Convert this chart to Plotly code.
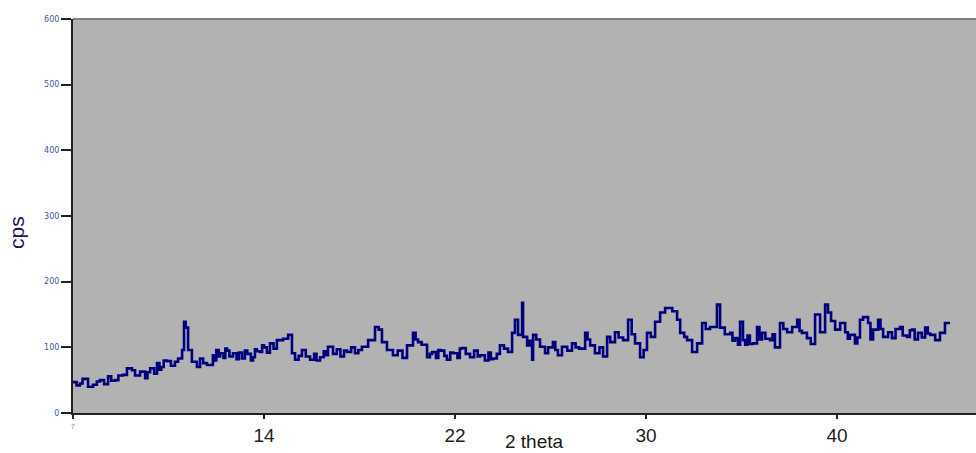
import plotly.graph_objects as go

# 2-theta positions (axis units) and counts per second
theta = [
    7.00, 7.15, 7.29, 7.40, 7.63, 7.84, 8.00, 8.13, 8.30, 8.47, 8.60, 8.76, 8.90, 9.09, 9.26, 9.47, 9.60, 9.81,
    10.02, 10.12, 10.23, 10.40, 10.52, 10.62, 10.70, 10.80, 10.94, 11.10, 11.27, 11.40, 11.57, 11.65, 11.72, 11.82, 11.98, 12.19,
    12.32, 12.45, 12.61, 12.86, 12.95, 13.00, 13.10, 13.16, 13.30, 13.38, 13.45, 13.55, 13.70, 13.85, 13.95, 14.08, 14.20, 14.30, 14.45, 14.54, 14.62, 14.70, 14.83, 14.92, 15.00, 15.12, 15.25, 15.40,
    15.54, 15.80, 16.01, 16.17, 16.30, 16.45, 16.59, 16.75, 16.93, 17.10, 17.20, 17.35, 17.50, 17.60, 17.68, 17.89, 18.05, 18.20, 18.35, 18.48, 18.65, 18.81, 18.95,
    19.10, 19.36, 19.65, 19.80, 19.94, 20.15, 20.40, 20.60, 20.80, 20.99, 21.24, 21.35, 21.45, 21.60, 21.83, 21.95,
    22.04, 22.20, 22.30, 22.40, 22.55, 22.66, 22.80, 22.92, 23.10, 23.20, 23.29, 23.45, 23.63, 23.80, 23.95, 24.05, 24.25, 24.40, 24.50, 24.59, 24.75,
    24.88, 25.05, 25.22, 25.39, 25.51, 25.64, 25.81, 25.85, 26.02, 26.12, 26.23, 26.27, 26.40, 26.56, 26.77, 26.90, 27.10, 27.20, 27.31, 27.48, 27.70, 27.90,
    28.05, 28.20, 28.45, 28.55, 28.66, 28.86, 29.05, 29.20, 29.37, 29.50, 29.70, 29.85, 30.04, 30.25, 30.40, 30.54, 30.75, 30.90,
    31.04, 31.20, 31.38, 31.59, 31.80, 32.10, 32.30, 32.43, 32.60, 32.72, 32.93, 33.14, 33.35, 33.50, 33.68, 33.97, 34.10, 34.30,
    34.52, 34.62, 34.73, 34.85, 34.94, 35.06, 35.15, 35.25, 35.35, 35.48, 35.65, 35.75, 35.86, 36.00, 36.19, 36.30, 36.40, 36.61, 36.75, 36.91, 37.12, 37.33, 37.43, 37.53, 37.74, 37.90,
    38.08, 38.29, 38.50, 38.62, 38.75, 38.92, 39.13, 39.34, 39.45, 39.54, 39.75, 39.85, 39.96, 40.09, 40.30, 40.40, 40.51, 40.72, 40.82, 40.93,
    41.14, 41.30, 41.45, 41.64, 41.75, 41.93, 42.05, 42.14, 42.25, 42.39, 42.55, 42.69, 42.80, 42.90, 43.11, 43.31, 43.52, 43.73,
]
cps = [
    47, 42, 45, 52, 40, 43, 48, 50, 44, 56, 49, 50, 57, 58, 68, 65, 57, 63,
    53, 62, 68, 60, 76, 66, 70, 80, 79, 72, 78, 83, 96, 139, 130, 96, 78, 70,
    83, 76, 73, 88, 80, 96, 86, 91, 84, 98, 95, 86, 91, 82, 92, 83, 95, 90, 80, 85, 97, 94, 93, 103, 100, 92, 106, 98,
    111, 113, 119, 91, 81, 87, 96, 86, 81, 90, 80, 85, 94, 88, 101, 90, 97, 86, 95, 93, 100, 91, 96,
    101, 111, 131, 127, 108, 96, 88, 95, 84, 103, 122, 112, 108, 104, 85, 90,
    93, 84, 96, 95, 87, 81, 92, 91, 84, 98, 99, 90, 85, 95, 86, 88, 80, 92, 82, 83, 90,
    103, 98, 93, 122, 142, 119, 168, 116, 103, 110, 81, 119, 112, 101, 91, 100, 108, 96, 88, 101, 95, 106,
    100, 98, 122, 112, 103, 91, 100, 86, 116, 108, 123, 115, 111, 142, 120, 106, 85, 96,
    122, 116, 139, 153, 160, 155, 142, 122, 116, 111, 93, 106, 137, 128, 131, 165, 130, 120,
    122, 110, 114, 104, 139, 111, 104, 118, 105, 106, 131, 112, 122, 113, 111, 120, 100, 137, 128, 123, 131, 142, 125, 122, 114, 105,
    150, 123, 165, 153, 140, 127, 137, 123, 113, 119, 106, 115, 142, 146, 137, 112, 127, 142, 128, 116,
    123, 114, 128, 131, 118, 116, 126, 127, 112, 122, 115, 130, 121, 119, 111, 122, 137, 137,
]

x_tick_vals = [7, 15, 23, 31, 39]
x_tick_text = ["", "14", "22", "30", "40"]
y_tick_vals = [0, 100, 200, 300, 400, 500, 600]
y_tick_text = ["0", "100", "200", "300", "400", "500", "600"]

fig = go.Figure()
fig.add_trace(go.Scatter(
    x=theta, y=cps, mode="lines",
    line=dict(color="#00007f", width=2.6, shape="hv"),
    showlegend=False, hoverinfo="skip"))

fig.update_layout(
    width=976, height=453,
    margin=dict(l=73, r=0, t=19, b=40),
    paper_bgcolor="white",
    plot_bgcolor="#b2b2b2",
    font=dict(family="Liberation Sans, Arial, sans-serif", color="#1a1a1a"),
    xaxis=dict(
        range=[7, 44.82], tickmode="array", tickvals=x_tick_vals, ticktext=x_tick_text,
        showgrid=False, zeroline=False, showline=True, linecolor="#222222", linewidth=2,
        ticks="outside", ticklen=4, tickwidth=2, tickcolor="#222222",
        tickfont=dict(size=19, color="#222222"),
    ),
    yaxis=dict(
        range=[0, 600], tickmode="array", tickvals=y_tick_vals, ticktext=y_tick_text,
        showgrid=False, zeroline=False, showline=True, linecolor="#222222", linewidth=2,
        ticks="outside", ticklen=10, tickwidth=2, tickcolor="#222222",
        tickfont=dict(size=8, color="#3a5a9a", family="DejaVu Sans, sans-serif"),
    ),
    shapes=[dict(type="line", xref="paper", yref="paper", x0=0, x1=1, y0=1, y1=1,
                 line=dict(color="#808080", width=2))],
    annotations=[
        dict(text="cps", xref="paper", yref="paper", x=-0.062, y=0.457, textangle=-90,
             xanchor="center", yanchor="middle",
             showarrow=False, font=dict(size=21, color="#2a1050")),
        dict(text="2 theta", xref="paper", yref="paper", x=0.5116, y=-0.072,
             xanchor="center", yanchor="middle",
             showarrow=False, font=dict(size=19, color="#1a1a1a")),
        dict(text="7", xref="x", yref="paper", x=7, y=-0.02, yanchor="top",
             showarrow=False, font=dict(size=7, color="#c08050")),
    ],
)

fig.write_html("out.html")
